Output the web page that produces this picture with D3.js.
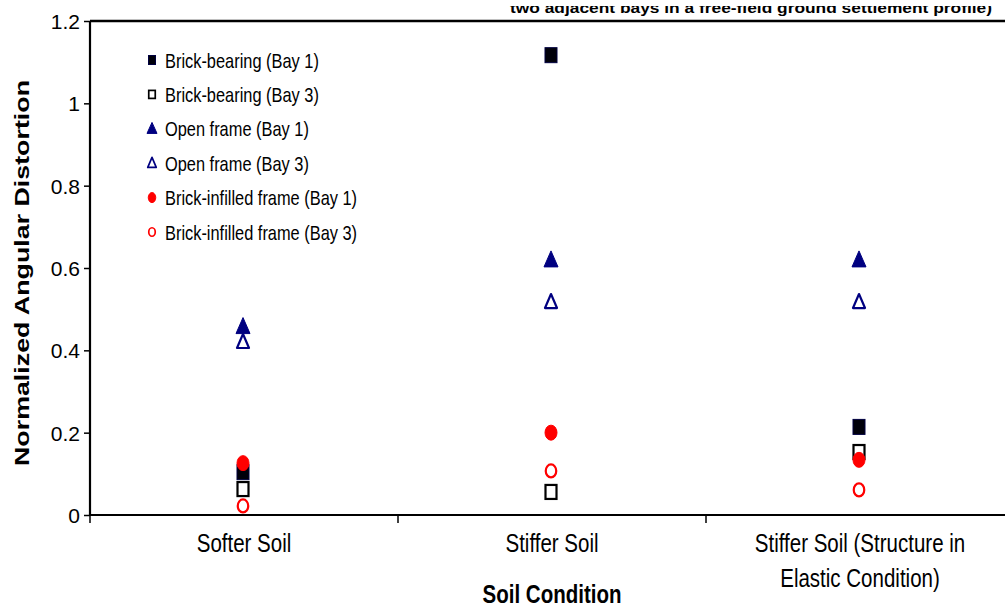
<!DOCTYPE html>
<html><head><meta charset="utf-8">
<script src="https://cdn.jsdelivr.net/npm/d3@7/dist/d3.min.js"></script>
<style>
html,body{margin:0;padding:0;background:#fff;}
svg{display:block;}
text{font-family:"Liberation Sans",Arial,sans-serif;}
</style></head>
<body>
<svg id="chart" width="1005" height="609"></svg>
<script>
// ---- data ----
const categories = ["Softer Soil", "Stiffer Soil", "Stiffer Soil (Structure in Elastic Condition)"];
const categoryLabels = [["Softer Soil"], ["Stiffer Soil"], ["Stiffer Soil (Structure in", "Elastic Condition)"]];
const seriesNames = ["Brick-bearing (Bay 1)", "Brick-bearing (Bay 3)", "Open frame (Bay 1)", "Open frame (Bay 3)", "Brick-infilled frame (Bay 1)", "Brick-infilled frame (Bay 3)"];
const brickBearingBay1 = [0.104, 1.117, 0.214];
const brickBearingBay3 = [0.063, 0.056, 0.153];
const openFrameBay1 = [0.457, 0.619, 0.619];
const openFrameBay3 = [0.420, 0.517, 0.517];
const brickInfilledBay1 = [0.126, 0.200, 0.134];
const brickInfilledBay3 = [0.022, 0.107, 0.061];
const yTicks = [0, 0.2, 0.4, 0.6, 0.8, 1, 1.2];
const yTitle = "Normalized Angular Distortion";
const xTitle = "Soil Condition";
const topText = "two adjacent bays in a free-field ground settlement profile)";

(function () {
const series = [
  {name: seriesNames[0], values: brickBearingBay1, shape: "square", fill: "#00000a", stroke: "#000040"},
  {name: seriesNames[1], values: brickBearingBay3, shape: "square", fill: "none", stroke: "#000"},
  {name: seriesNames[2], values: openFrameBay1, shape: "triangle", fill: "#000080", stroke: "#000080"},
  {name: seriesNames[3], values: openFrameBay3, shape: "triangle", fill: "none", stroke: "#000080"},
  {name: seriesNames[4], values: brickInfilledBay1, shape: "circle", fill: "#ff0000", stroke: "#ff0000"},
  {name: seriesNames[5], values: brickInfilledBay3, shape: "circle", fill: "none", stroke: "#ff0000"}
];

const svg = d3.select("#chart");
const plotL = 90, plotR = 1014, plotT = 21, plotB = 515;
const SX = 0.82; // horizontal squeeze of the text (reference is stretched vertically)

const x = d3.scaleBand().domain(categories).range([plotL, plotR]);
const y = d3.scaleLinear().domain([0, 1.2]).range([plotB, plotT]);

function narrow(parent, px, py, str, size, anchor, bold) {
  return parent.append("text")
    .attr("transform", `translate(${px},${py}) scale(${SX},1)`)
    .attr("text-anchor", anchor || "start").attr("fill", "#000")
    .style("font-size", size + "px").style("font-weight", bold ? "bold" : "normal")
    .text(str);
}

// top caption, partly cropped as in the reference
svg.append("defs").append("clipPath").attr("id", "capclip")
  .append("rect").attr("x", 0).attr("y", 6).attr("width", 1005).attr("height", 12);
svg.append("text").attr("x", 510).attr("y", 13).attr("clip-path", "url(#capclip)")
  .attr("textLength", 482).attr("lengthAdjust", "spacingAndGlyphs")
  .style("font-size", "15px").style("font-weight", "bold").text(topText);

// top frame line
svg.append("line").attr("x1", plotL).attr("x2", 1005).attr("y1", plotT).attr("y2", plotT)
  .attr("stroke", "#000").attr("stroke-width", 2.4);

// y axis
const yAxis = svg.append("g").attr("transform", `translate(${plotL},0)`)
  .call(d3.axisLeft(y).tickValues(yTicks).tickSize(6).tickPadding(4)
    .tickFormat(d => (d === 0 || d === 1) ? String(d) : d3.format(".1f")(d)));
yAxis.select(".domain").attr("stroke-width", 2.2).attr("d", `M0,${plotT}V${plotB}`);
yAxis.selectAll(".tick line").attr("stroke-width", 1.5);
yAxis.selectAll("text").style("font-size", "21px").style("font-family", "Liberation Sans, Arial, sans-serif")
  .attr("fill", "#000").attr("dy", "0.36em");

// x axis
const xAxis = svg.append("g").attr("transform", `translate(0,${plotB})`)
  .call(d3.axisBottom(x).tickSize(0).tickFormat(""));
xAxis.select(".domain").attr("stroke-width", 2.2).attr("d", `M${plotL},0H${plotR}`);
xAxis.selectAll(".bound").data(categories).join("line").attr("class", "bound")
  .attr("x1", d => x(d)).attr("x2", d => x(d)).attr("y1", 0).attr("y2", 8)
  .attr("stroke", "#000").attr("stroke-width", 1.5);
xAxis.selectAll(".tick").each(function(d) {
  const i = categories.indexOf(d);
  categoryLabels[i].forEach((line, k) => {
    narrow(d3.select(this), 0, 37 + k * 35, line, 25, "middle", false);
  });
});

// axis titles
svg.append("text").attr("transform", `translate(29,273) rotate(-90)`)
  .attr("text-anchor", "middle").attr("textLength", 386).attr("lengthAdjust", "spacingAndGlyphs")
  .style("font-size", "21px").style("font-weight", "bold").text(yTitle);
narrow(svg, x(categories[1]) + x.bandwidth() / 2, 603, xTitle, 25, "middle", true);

function drawMarker(g, shape, w, h, fill, stroke, sw) {
  const f = fill === "none" ? "#fff" : fill;
  if (shape === "square") {
    g.append("rect").attr("x", -w / 2).attr("y", -h / 2).attr("width", w).attr("height", h)
      .attr("fill", f).attr("stroke", stroke).attr("stroke-width", sw);
  } else if (shape === "triangle") {
    g.append("path").attr("d", `M0,${-h * 0.58}L${w / 2},${h * 0.42}L${-w / 2},${h * 0.42}Z`)
      .attr("fill", f).attr("stroke", stroke).attr("stroke-width", sw).attr("stroke-linejoin", "round");
  } else {
    g.append("ellipse").attr("rx", w / 2).attr("ry", h / 2)
      .attr("fill", f).attr("stroke", stroke).attr("stroke-width", sw);
  }
}

const markerSize = {
  square: {filled: [12, 15], open: [11, 14]},
  triangle: {filled: [14, 16], open: [12, 14]},
  circle: {filled: [12, 15], open: [10.5, 13]}
};

const pts = svg.append("g");
series.forEach(s => {
  const kind = s.fill === "none" ? "open" : "filled";
  const [w, h] = markerSize[s.shape][kind];
  s.values.forEach((v, i) => {
    const cx = x(categories[i]) + x.bandwidth() / 2 - 1;
    const g = pts.append("g").attr("transform", `translate(${cx},${y(v)})`);
    drawMarker(g, s.shape, w, h, s.fill, s.stroke, kind === "open" ? 2.2 : 1);
  });
});

const legendSize = {
  square: {filled: [7, 9], open: [6.5, 8]},
  triangle: {filled: [10, 11], open: [8.5, 10]},
  circle: {filled: [7.5, 10], open: [6.5, 8.5]}
};
const legend = svg.append("g");
series.forEach((s, i) => {
  const ly = 60 + i * 34.4;
  const kind = s.fill === "none" ? "open" : "filled";
  const [w, h] = legendSize[s.shape][kind];
  const g = legend.append("g").attr("transform", `translate(152,${ly})`);
  drawMarker(g, s.shape, w, h, s.fill, s.stroke, kind === "open" ? 1.7 : 1);
  narrow(legend, 165, ly + 7.5, s.name, 20, "start", false);
});
})();
</script>
</body></html>
